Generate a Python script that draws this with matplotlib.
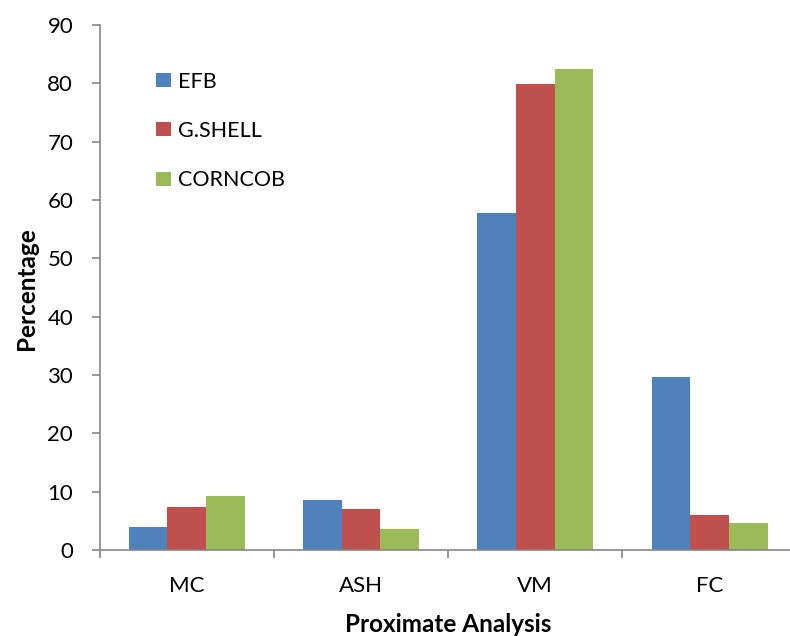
import numpy as np
import matplotlib.pyplot as plt

categories = ["MC", "ASH", "VM", "FC"]
efb = [4.0, 8.6, 57.7, 29.7]
gshell = [7.3, 7.0, 79.8, 6.0]
corncob = [9.3, 3.6, 82.5, 4.7]


def plot_proximate(out_path):
    plt.rcParams["font.family"] = ["Lato", "DejaVu Sans"]
    fig = plt.figure(figsize=(7.9, 6.36), dpi=100)
    ax = fig.add_axes([0.126, 0.1352, 0.8825, 0.8255])

    x = np.arange(len(categories))
    w = 0.222
    ax.bar(x - w, efb, w, color="#4F81BD", label="EFB")
    ax.bar(x, gshell, w, color="#C0504D", label="G.SHELL")
    ax.bar(x + w, corncob, w, color="#9BBB59", label="CORNCOB")

    ax.set_xlim(-0.5, 3.5)
    ax.set_ylim(0, 90)
    ax.set_yticks(range(0, 91, 10))
    ax.set_xticks(x)
    ax.set_xticklabels(categories)
    ax.set_xticks(np.arange(-0.5, 3.6, 1.0), minor=True)
    ax.tick_params(axis="x", which="major", length=0, pad=19, labelsize=16)
    ax.tick_params(axis="x", which="minor", length=6, width=1.2, color="#868686")
    ax.tick_params(axis="y", length=6, width=1.2, color="#868686", labelsize=16, pad=13)

    for side in ["top", "right"]:
        ax.spines[side].set_visible(False)
    for side in ["left", "bottom"]:
        ax.spines[side].set_color("#868686")
        ax.spines[side].set_linewidth(1.2)

    fig.text(26 / 790, 1 - 289 / 636, "Percentage", rotation=90, fontsize=17.5,
             fontweight="bold", ha="center", va="center")
    fig.text(448 / 790, 4 / 636, "Proximate Analysis", fontsize=17.5,
             fontweight="bold", ha="center", va="baseline")

    ax.legend(loc="upper left", bbox_to_anchor=(145 / 790, 1 - 61 / 636),
              bbox_transform=fig.transFigure, frameon=False, borderpad=0,
              fontsize=15.5, handlelength=0.7, handleheight=0.62,
              labelspacing=1.36, handletextpad=0.33)

    fig.savefig(out_path, dpi=100)


def main():
    plot_proximate("out.png")


if __name__ == "__main__":
    main()
